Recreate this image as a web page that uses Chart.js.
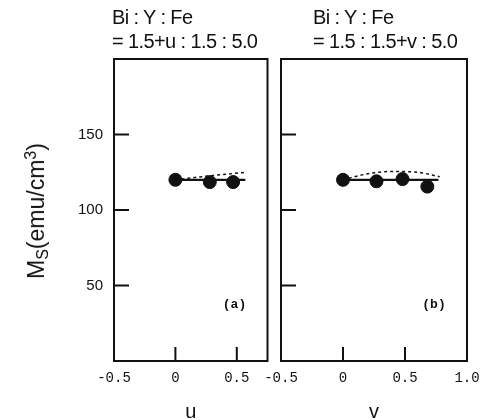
<!DOCTYPE html>
<html>
<head>
<meta charset="utf-8">
<script src="https://cdn.jsdelivr.net/npm/chart.js@4"></script>
<style>
  body { margin: 0; background: #fff; }
  #wrap { position: relative; width: 483px; height: 420px; overflow: hidden; background: #fff; }
  canvas { position: absolute; top: 0; }
  .head { position: absolute; font-family: "Liberation Sans", Arial, sans-serif; font-size: 20px;
          line-height: 24px; letter-spacing: -0.6px; color: #111; white-space: nowrap; }
  #ytitle { position: absolute; left: 37px; top: 211px; transform: translate(-50%, -50%) rotate(-90deg);
            font-family: "Liberation Sans", Arial, sans-serif; font-size: 23px; color: #111; white-space: nowrap; }
  #ytitle sub { font-size: 16px; vertical-align: -4px; }
  #ytitle sup { font-size: 16px; vertical-align: 8px; }
</style>
</head>
<body>
<div id="wrap">
  <canvas id="panelA" width="275" height="420" style="left:0"></canvas>
  <canvas id="panelB" width="233" height="420" style="left:250px"></canvas>
  <div class="head" style="left:112px; top:5px">Bi : Y : Fe</div>
  <div class="head" style="left:112px; top:29px">= 1.5+u : 1.5 : 5.0</div>
  <div class="head" style="left:313px; top:5px">Bi : Y : Fe</div>
  <div class="head" style="left:313px; top:29px">= 1.5 : 1.5+v : 5.0</div>
  <div id="ytitle">M<sub>S</sub>(emu/cm<sup>3</sup>)</div>
</div>
<script>
// measured Ms vs. u (Bi excess)
const uPts = [0, 0.28, 0.47];
const msU = [120, 118.5, 118.5];
const uSolid = [0, 0.57];
const msUSolid = [120, 120];
const uDash = [0, 0.3, 0.58];
const msUDash = [120, 122.8, 125];

// measured Ms vs. v (Y excess)
const vPts = [0, 0.27, 0.48, 0.68];
const msV = [120, 119, 120.5, 115.5];
const vSolid = [0, 0.77];
const msVSolid = [120, 120];
const vDash = [0, 0.2, 0.4, 0.6, 0.78];
const msVDash = [120, 124, 125.5, 125, 122];

const uTicks = [-0.5, 0, 0.5];
const vTicks = [-0.5, 0, 0.5, 1.0];
const msTicks = [50, 100, 150];

const pairs = (xs, ys) => xs.map((x, i) => ({ x, y: ys[i] }));

// box around the plot area, inward tick marks and the panel tag
const framePlugin = {
  id: 'frame',
  afterDraw(chart, args, opts) {
    const { ctx, chartArea: a, scales: { x, y } } = chart;
    ctx.save();
    ctx.strokeStyle = '#111';
    ctx.lineWidth = 2;
    ctx.strokeRect(a.left, a.top, a.right - a.left, a.bottom - a.top);
    ctx.beginPath();
    opts.yMarks.forEach(v => {
      const py = y.getPixelForValue(v);
      ctx.moveTo(a.left, py);
      ctx.lineTo(a.left + 15, py);
    });
    opts.xMarks.forEach(v => {
      const px = x.getPixelForValue(v);
      ctx.moveTo(px, a.bottom);
      ctx.lineTo(px, a.bottom - 14);
    });
    ctx.stroke();
    ctx.fillStyle = '#111';
    ctx.font = 'bold 13px "Liberation Mono", monospace';
    ctx.textAlign = 'center';
    ctx.textBaseline = 'middle';
    ctx.fillText(opts.tag, a.right - opts.tagDx, y.getPixelForValue(37));
    ctx.restore();
  }
};

function makePanel(id, cfg) {
  const el = document.getElementById(id);
  return new Chart(el, {
    type: 'scatter',
    data: {
      datasets: [
        {
          data: pairs(cfg.xs, cfg.ys),
          backgroundColor: '#111', borderColor: '#111',
          pointRadius: 6.5, showLine: false
        },
        {
          data: pairs(cfg.solidX, cfg.solidY),
          borderColor: '#111', borderWidth: 2.2,
          pointRadius: 0, showLine: true
        },
        {
          data: pairs(cfg.dashX, cfg.dashY),
          borderColor: '#111', borderWidth: 1.5, borderDash: [3, 3],
          pointRadius: 0, showLine: true, tension: 0.4, cubicInterpolationMode: 'monotone'
        }
      ]
    },
    options: {
      responsive: false,
      animation: false,
      events: [],
      layout: { padding: { top: 59, right: cfg.padRight, left: 0, bottom: 0 } },
      plugins: {
        legend: { display: false },
        tooltip: { enabled: false },
        frame: { xMarks: [0, 0.5], yMarks: msTicks, tag: cfg.tag, tagDx: 33 }
      },
      scales: {
        x: {
          type: 'linear',
          min: cfg.xMin, max: cfg.xMax,
          afterBuildTicks: s => { s.ticks = cfg.xTicks.map(v => ({ value: v })); },
          afterFit: s => { s.height = 59; s.paddingLeft = 0; s.paddingRight = 0; },
          grid: { display: false },
          border: { display: false },
          ticks: {
            autoSkip: false, maxRotation: 0, padding: 1, color: '#111',
            font: { family: '"Liberation Mono", monospace', size: 14 },
            callback: v => (v === 0 ? '0' : v.toFixed(1))
          },
          title: {
            display: true, text: cfg.xTitle, color: '#111',
            font: { family: '"Liberation Sans", Arial, sans-serif', size: 20, lineHeight: 1 },
            padding: { top: 0, bottom: -2 }
          }
        },
        y: {
          type: 'linear',
          min: 0, max: 200,
          afterBuildTicks: s => { s.ticks = msTicks.map(v => ({ value: v })); },
          afterFit: s => { s.width = cfg.yWidth; },
          grid: { display: false, drawTicks: false },
          border: { display: false },
          ticks: {
            display: cfg.yLabels, padding: 11, color: '#111',
            font: { family: '"Liberation Sans", Arial, sans-serif', size: 15 }
          }
        }
      }
    },
    plugins: [framePlugin]
  });
}

makePanel('panelA', {
  xs: uPts, ys: msU, solidX: uSolid, solidY: msUSolid, dashX: uDash, dashY: msUDash,
  xMin: -0.5, xMax: 0.75, xTicks: uTicks, xTitle: 'u',
  yWidth: 114, yLabels: true, padRight: 7, tag: '(a)'
});

makePanel('panelB', {
  xs: vPts, ys: msV, solidX: vSolid, solidY: msVSolid, dashX: vDash, dashY: msVDash,
  xMin: -0.5, xMax: 1.0, xTicks: vTicks, xTitle: 'v',
  yWidth: 31, yLabels: false, padRight: 16, tag: '(b)'
});
</script>
</body>
</html>
